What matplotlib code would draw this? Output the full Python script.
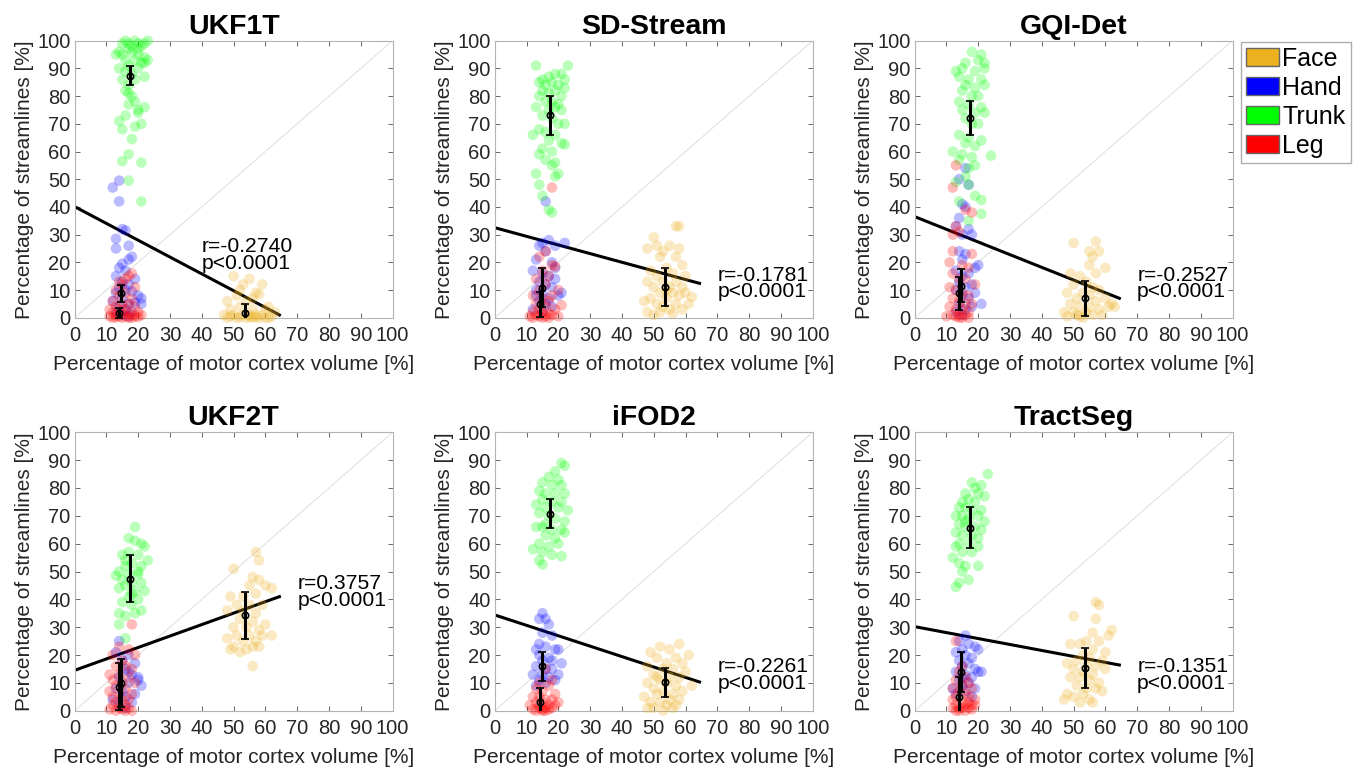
import numpy as np
import matplotlib.pyplot as plt
from matplotlib.patches import Patch

plt.rcParams['font.family'] = ['Liberation Sans', 'DejaVu Sans']

methods = ['UKF1T', 'SD-Stream', 'GQI-Det', 'UKF2T', 'iFOD2', 'TractSeg']
groups = ['Face', 'Hand', 'Trunk', 'Leg']
colors = {'Face': '#EDB120', 'Hand': '#0000FF', 'Trunk': '#00FF00', 'Leg': '#FF0000'}

# (motor cortex volume %, streamline %) per subject
ukf1t_face = [(50, 15), (55, 14), (59, 12), (53, 12), (52, 10), (57, 9), (51, 8), (56, 7), (58, 8.5), (48, 6),
              (54, 6), (61, 4), (49, 3), (52, 4), (56, 3), (60, 3), (63, 2), (47, 1), (50, 1), (53, 1),
              (55, 1), (57, 1), (59, 1), (62, 0.5), (48, 0), (51, 0), (54, 0), (56, 0), (58, 0), (60, 0),
              (52, 0.3), (55, 0.3), (49, 0.5), (57, 0.2), (61, 0)]
ukf1t_hand = [(12, 47), (14, 49.5), (14, 42), (15, 32), (16, 31.5), (13, 28.5), (13, 25), (17, 26), (18, 22), (17, 21),
              (15, 19.5), (14, 18), (16, 17), (13, 15), (19, 14), (15, 13), (17, 12), (14, 11), (16, 10), (18, 9.5),
              (13, 9), (20, 8), (21, 7), (15, 7), (12, 6), (17, 5), (19, 5.5), (14, 4), (16, 3), (21, 5),
              (13, 2), (18, 2), (15, 1), (17, 0.5)]
ukf1t_trunk = [(15, 99), (16, 100), (17, 99), (18, 98), (19, 100), (20, 99), (21, 98), (22, 99), (23, 100), (17, 97),
               (14, 96), (15, 95), (18, 96), (20, 95), (22, 94), (16, 93), (19, 93), (21, 92), (23, 93), (17, 91),
               (14, 90), (16, 89), (18, 88), (20, 90), (22, 87), (15, 86), (19, 86), (17, 84), (16, 82), (18, 80),
               (19, 78), (17, 77), (22, 76), (20, 75), (16, 73), (14, 71), (21, 70), (19, 69), (15, 68), (18, 64.5),
               (17, 59), (15, 56.5), (21, 56), (17, 49.5), (21, 42), (20, 74), (17, 81), (22, 92), (13, 95), (20, 97)]
ukf1t_leg = [(18, 16), (17, 15), (16, 14), (14, 13), (15, 12), (13, 10), (19, 11), (16, 9), (14, 8), (18, 7),
             (12, 6), (15, 5), (17, 5), (13, 4), (19, 4), (11, 3), (14, 3), (16, 3), (20, 2), (12, 2),
             (15, 2), (17, 1.5), (13, 1), (18, 1), (21, 1), (11, 0.5), (14, 0.5), (16, 0.5), (19, 0.5), (20, 0.3),
             (12, 0), (15, 0), (17, 0), (13, 0.2), (18, 0)]

sdstream_face = [(57, 33), (58, 33), (50, 29), (51, 26), (55, 26), (48, 25), (53, 24), (58, 25), (57, 22), (52, 22),
                 (59, 19), (49, 17), (54, 18), (56, 16), (51, 15), (60, 15), (48, 13), (53, 13), (57, 13), (50, 11),
                 (55, 11), (59, 11), (52, 9), (56, 9), (58, 8), (49, 7), (54, 7), (62, 7.5), (47, 6), (51, 5),
                 (57, 5), (61, 5), (53, 4), (55, 3), (48, 2), (52, 2), (59, 3), (50, 1), (56, 1.5), (54, 10), (60, 9)]
sdstream_hand = [(16, 42), (15, 27), (17, 28), (22, 27), (19, 26), (14, 26), (16, 24), (13, 21), (18, 20), (12, 17),
                 (15, 16), (17, 15), (19, 14), (14, 13), (21, 9), (16, 12), (18, 11), (13, 10), (15, 9), (20, 8),
                 (17, 7), (14, 6), (16, 5), (12, 3), (18, 4), (15, 2), (13, 8), (19, 18)]
sdstream_trunk = [(13, 91), (23, 91), (15, 86), (17, 87), (19, 88), (21, 88), (22, 86), (14, 85), (16, 84), (18, 85),
                  (20, 84), (22, 83), (15, 82), (17, 81), (19, 82), (21, 80), (14, 80), (16, 78), (18, 78), (20, 77),
                  (13, 76), (17, 75), (19, 76), (21, 75), (15, 73), (18, 72), (20, 70), (22, 70), (14, 68), (16, 67),
                  (12, 66), (19, 66), (17, 64), (21, 63), (22, 62.5), (15, 61), (18, 60), (14, 59), (16, 57), (19, 56),
                  (18, 55), (13, 52), (20, 52), (19, 51), (14, 48), (15, 44), (17, 39), (18, 38)]
sdstream_leg = [(18, 47), (16, 24), (14, 22), (18, 19), (19, 18.5), (15, 17), (13, 14), (17, 15), (16, 12), (20, 10),
                (14, 10), (12, 8), (18, 8), (15, 7), (17, 6), (21, 4.5), (13, 5), (16, 4), (14, 3), (19, 3),
                (12, 2), (15, 2), (17, 1.5), (18, 1), (13, 1), (16, 0.5), (14, 0.5), (20, 0.5), (11, 0.5), (15, 0),
                (17, 0), (12, 0)]

gqidet_face = [(50, 27), (57, 27.5), (55, 24), (58, 24), (56, 22), (55, 19), (60, 18), (57, 16), (49, 16), (52, 15),
               (54, 13), (50, 12), (56, 11), (58, 10), (48, 9), (53, 9), (55, 8), (60, 7), (51, 7), (57, 6),
               (62, 5), (49, 5), (52, 4), (55, 4), (58, 3), (47, 2), (50, 2), (54, 2), (56, 1), (59, 1),
               (48, 0.5), (52, 0.5), (53, 0), (51, 1), (61, 4), (63, 4)]
gqidet_hand = [(16, 54), (14, 50), (17, 48), (15, 41), (16, 40), (14, 36), (13, 33), (17, 32), (15, 30), (18, 30),
               (14, 24), (16, 23), (15, 21), (20, 19), (19, 18), (13, 17), (17, 16), (15, 15), (14, 13), (18, 12),
               (16, 11), (13, 10), (19, 9), (15, 8), (17, 7), (21, 5), (14, 5), (16, 3), (13, 2), (18, 4), (15, 1)]
gqidet_trunk = [(18, 96), (21, 95), (20, 93), (22, 92), (16, 92), (15, 90), (13, 89), (19, 89), (22, 90), (14, 87),
                (17, 86), (21, 86), (16, 84), (19, 83), (22, 84), (15, 82), (18, 80), (20, 80), (14, 78), (17, 77),
                (21, 76), (15, 75), (19, 74), (22, 74), (16, 72), (18, 70), (20, 70), (14, 66), (17, 65), (21, 64),
                (16, 63), (19, 62), (12, 60), (15, 59), (18, 58), (24, 58.5), (14, 57), (19, 55), (17, 54), (16, 51),
                (13, 49), (17, 48), (19, 44), (21, 42.5), (14, 42), (21, 37.5), (17, 35)]
gqidet_leg = [(13, 55), (12, 47), (16, 39), (18, 38), (14, 31), (12, 30), (13, 33), (12, 24), (18, 23), (11, 20),
              (15, 19), (17, 18), (12, 16), (14, 14), (16, 14), (19, 12), (11, 11), (13, 10), (15, 9), (17, 8),
              (12, 7), (14, 6), (16, 5), (18, 5), (11, 4), (13, 3), (15, 3), (17, 2), (12, 1), (14, 1),
              (16, 1), (10, 0.5), (13, 0.5), (15, 0), (17, 0), (14, 0)]

ukf2t_face = [(57, 57), (58, 54), (50, 51), (56, 48), (58, 47), (55, 45), (60, 45), (49, 41), (53, 41), (57, 42),
              (62, 44), (51, 38), (55, 38), (59, 38), (48, 36), (53, 36), (57, 35), (52, 33), (56, 32), (60, 31),
              (50, 30), (54, 30), (58, 29), (51, 27), (55, 27), (59, 27), (62, 27), (48, 26), (53, 25), (57, 25),
              (50, 23), (54, 22), (56, 23), (49, 22), (52, 21), (58, 23), (56, 16)]
ukf2t_hand = [(14, 25), (13, 21), (17, 20), (15, 18), (19, 17), (16, 15), (18, 13), (20, 11), (21, 9), (14, 12),
              (17, 10), (13, 8), (15, 7), (19, 6), (16, 5), (12, 4), (18, 3), (14, 2), (16, 1), (20, 12), (17, 14)]
ukf2t_trunk = [(19, 66), (17, 62), (21, 60), (19, 61), (15, 56), (22, 59), (17, 57), (20, 56), (23, 54), (13, 48.5),
               (16, 52), (18, 53), (21, 52), (14, 50), (17, 49), (20, 49), (15, 47), (18, 46), (21, 46), (14, 44),
               (16, 45), (19, 43), (22, 43), (17, 41), (20, 40), (15, 39), (18, 38), (21, 36), (14, 35), (16, 34),
               (19, 35), (14, 31), (16, 26), (18, 42), (20, 50), (16, 54)]
ukf2t_leg = [(18, 31), (14, 23), (17, 22), (19, 20), (12, 20), (15, 18), (13, 16), (16, 16), (18, 15), (11, 13),
             (14, 13), (17, 12), (12, 11), (15, 10), (19, 10), (13, 9), (16, 8), (11, 7), (14, 6), (18, 6),
             (12, 5), (15, 4), (17, 4), (13, 3), (16, 2), (12, 2), (14, 1), (17, 1), (15, 0.5), (13, 0),
             (16, 0), (11, 0.5), (18, 0)]

ifod2_face = [(58, 24), (52, 23), (55, 22), (49, 21), (61, 20), (57, 19), (51, 19), (54, 17), (59, 17), (48, 16),
              (53, 15), (56, 15), (60, 14), (50, 13), (55, 12), (58, 12), (52, 11), (62, 9), (48, 10), (54, 10),
              (57, 9), (50, 8), (53, 7), (59, 7), (51, 6), (56, 6), (47, 5), (55, 4), (58, 4), (49, 3),
              (52, 3), (54, 2), (57, 2), (50, 1), (48, 1), (56, 1), (53, 0), (51, 12)]
ifod2_hand = [(15, 35), (14, 33), (16, 33), (17, 31), (15, 28), (18, 27), (13, 22), (16, 23), (19, 22), (20, 22),
              (14, 20), (17, 19), (15, 18), (21, 17), (13, 16), (16, 15), (18, 15), (12, 13), (15, 13), (17, 12),
              (14, 11), (19, 11), (16, 10), (13, 9), (20, 13), (18, 18), (14, 24)]
ifod2_trunk = [(21, 89), (19, 86), (22, 88), (17, 84), (20, 83), (15, 82), (18, 81), (21, 81), (14, 79), (16, 78),
               (19, 78), (22, 78), (15, 76), (18, 75), (21, 75), (13, 74), (16, 73), (20, 73), (23, 72), (14, 71),
               (17, 70), (19, 69), (22, 68), (13, 66), (15, 66), (18, 65), (21, 65), (16, 63), (19, 62), (22, 64),
               (14, 60), (17, 59), (20, 60), (12, 58), (15, 57), (18, 56), (21, 55.5), (14, 54), (15, 52.5), (16, 67)]
ifod2_leg = [(16, 15), (18, 11), (14, 10), (17, 9), (13, 8), (15, 7), (19, 6), (12, 5), (14, 5), (16, 4),
             (18, 4), (13, 3), (15, 3), (17, 2), (19, 2), (11, 2), (14, 1), (16, 1), (18, 1), (12, 0.5),
             (15, 0.5), (17, 0.5), (13, 0), (15, 0), (16, 0), (14, 2), (20, 3)]

tractseg_face = [(57, 39), (58, 38), (50, 34), (57, 33), (62, 29), (56, 28), (61, 27), (54, 25), (52, 24), (58, 25),
                 (49, 24), (56, 22), (60, 21), (53, 20), (55, 19), (51, 18), (59, 18), (48, 17), (54, 16), (57, 16),
                 (50, 15), (53, 14), (56, 13), (60, 15), (49, 12), (52, 12), (55, 11), (58, 10), (51, 9), (54, 8),
                 (57, 8), (48, 6), (53, 6), (59, 7), (50, 5), (55, 4), (47, 4), (52, 3), (56, 3)]
tractseg_hand = [(16, 27), (14, 25), (17, 24), (19, 23), (20, 22), (15, 22), (13, 21), (16, 20), (18, 19), (14, 18),
                 (17, 17), (15, 16), (19, 15), (13, 14), (16, 13), (18, 12), (20, 14), (14, 11), (17, 10), (15, 9),
                 (12, 8), (19, 8), (16, 7), (13, 6), (18, 5), (21, 14), (15, 12)]
tractseg_trunk = [(23, 85), (18, 82), (21, 81), (19, 80), (16, 78), (20, 78), (22, 77), (15, 75), (17, 76), (19, 75),
                  (14, 73), (16, 73), (18, 72), (21, 72), (13, 70), (15, 70), (17, 69), (20, 70), (22, 68), (14, 67),
                  (16, 66), (19, 66), (21, 65), (13, 64), (15, 63), (18, 63), (20, 62), (14, 60), (17, 60), (20, 59),
                  (13, 59), (15, 57), (18, 57), (12, 55), (14, 53), (16, 52), (20, 52), (15, 50), (17, 47), (14, 46),
                  (13, 44.5), (16, 68)]
tractseg_leg = [(13, 25), (15, 16), (14, 14), (16, 12), (13, 11), (17, 10), (15, 9), (12, 8), (18, 8), (14, 7),
                (16, 6), (13, 5), (17, 5), (19, 4), (12, 4), (15, 3), (17, 3), (13, 2), (16, 2), (18, 2),
                (14, 1), (12, 1), (15, 1), (17, 1), (13, 0), (16, 0), (14, 0), (18, 0.5), (19, 2)]

points = {
    'UKF1T': [ukf1t_face, ukf1t_hand, ukf1t_trunk, ukf1t_leg],
    'SD-Stream': [sdstream_face, sdstream_hand, sdstream_trunk, sdstream_leg],
    'GQI-Det': [gqidet_face, gqidet_hand, gqidet_trunk, gqidet_leg],
    'UKF2T': [ukf2t_face, ukf2t_hand, ukf2t_trunk, ukf2t_leg],
    'iFOD2': [ifod2_face, ifod2_hand, ifod2_trunk, ifod2_leg],
    'TractSeg': [tractseg_face, tractseg_hand, tractseg_trunk, tractseg_leg],
}

# group means (x) and mean +/- sd of streamline percentage, per method
group_x = [53.6, 14.7, 17.5, 14.1]
face_mean = [1.6, 11.2, 7.0, 34.3, 10.2, 15.4]
face_sd = [3.3, 6.9, 6.2, 8.4, 5.3, 7.3]
hand_mean = [8.8, 10.8, 11.6, 9.8, 15.9, 13.9]
hand_sd = [3.1, 7.0, 6.0, 8.6, 5.3, 7.3]
trunk_mean = [87.4, 73.0, 72.1, 47.4, 70.8, 65.7]
trunk_sd = [3.3, 7.0, 6.3, 8.5, 5.3, 7.3]
leg_mean = [1.6, 4.8, 8.8, 8.6, 3.0, 4.8]
leg_sd = [1.8, 4.5, 6.0, 8.5, 5.0, 7.3]

# linear fit over all groups
fit_intercept = [40.1, 32.5, 36.5, 14.5, 34.4, 30.2]
fit_slope = [-0.607, -0.312, -0.458, 0.411, -0.374, -0.214]
r_values = ['-0.2740', '-0.1781', '-0.2527', '0.3757', '-0.2261', '-0.1351']
p_text = 'p<0.0001'
label_x = [40, 70, 70, 70, 70, 70]
label_y = [22.6, 12.4, 12.4, 42.6, 12.8, 12.8]

fig = plt.figure(figsize=(13.57, 7.68), dpi=100)
lefts = [0.055, 0.3646, 0.674]
bottoms = [0.5863, 0.0746]
heights = [0.3607, 0.3625]
w = 0.2343

for i, m in enumerate(methods):
    row, col = divmod(i, 3)
    ax = fig.add_axes([lefts[col], bottoms[row], w, heights[row]])
    ax.plot([0, 100], [0, 100], color='0.85', lw=0.6, zorder=1)
    xs = np.linspace(0, 64.4, 2)
    ax.plot(xs, fit_intercept[i] + fit_slope[i] * xs, color='black', lw=2.2, zorder=2)
    for g, pts in zip(groups, points[m]):
        arr = np.array(pts, dtype=float)
        ax.scatter(arr[:, 0], arr[:, 1], s=58, color=colors[g], alpha=0.27,
                   edgecolors='none', zorder=3, clip_on=False)
    means = [face_mean[i], hand_mean[i], trunk_mean[i], leg_mean[i]]
    sds = [face_sd[i], hand_sd[i], trunk_sd[i], leg_sd[i]]
    for gx, mu, sd in zip(group_x, means, sds):
        ax.errorbar(gx, mu, yerr=sd, fmt='o', color='black', mfc='none', mec='black',
                    ms=4.5, mew=1.2, elinewidth=2.2, capsize=3, capthick=1.6, zorder=5)
    ax.text(label_x[i], label_y[i], f'r={r_values[i]}\n{p_text}', fontsize=15.2,
            va='center', ha='left', linespacing=0.82, zorder=6)
    ax.set_xlim(0, 100)
    ax.set_ylim(0, 100)
    ax.set_xticks(range(0, 101, 10))
    ax.set_yticks(range(0, 101, 10))
    ax.tick_params(direction='in', top=True, right=True, length=3.5, width=0.6,
                   color='0.3', labelsize=14.5, labelcolor='0.15', pad=3)
    ax.tick_params(axis='x', pad=6)
    for sp in ax.spines.values():
        sp.set_color('0.7')
        sp.set_linewidth(0.8)
    ax.set_title(m, fontsize=20.5, fontweight='bold', pad=5)
    ax.set_xlabel('Percentage of motor cortex volume [%]', fontsize=15, color='0.15', labelpad=7)
    ax.set_ylabel('Percentage of streamlines [%]', fontsize=15, color='0.15', labelpad=2)

handles = [Patch(facecolor=colors[g], edgecolor='0.4', label=g) for g in groups]
fig.legend(handles=handles, loc='upper left', bbox_to_anchor=(1241 / 1357, 1 - 42 / 768),
           fontsize=18, frameon=True, fancybox=False, edgecolor='0.6', borderpad=0.2,
           handlelength=1.3, handleheight=0.75, handletextpad=0.15, labelspacing=0.2,
           borderaxespad=0)

fig.savefig('out.png', dpi=100)
